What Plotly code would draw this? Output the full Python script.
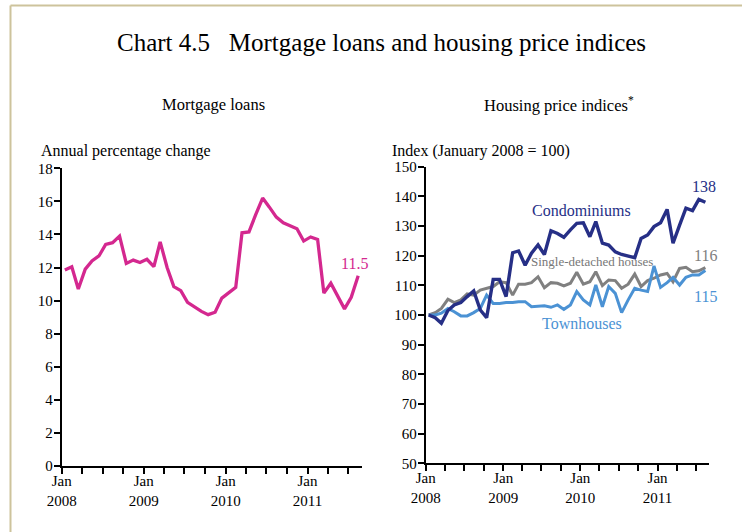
import plotly.graph_objects as go
import pandas as pd

# Monthly observations, January 2008 - August 2011 (plotted mid-month)
months = pd.date_range("2008-01-01", periods=44, freq="MS") + pd.Timedelta(days=14)

mortgage_loans = [
    11.85, 12.05, 10.7, 11.9, 12.4, 12.7, 13.4, 13.5, 13.9, 12.25, 12.45, 12.3,
    12.5, 12.05, 13.55, 12.0, 10.85, 10.6, 9.9, 9.6, 9.35, 9.15, 9.3, 10.15,
    10.45, 10.8, 14.1, 14.15, 15.2, 16.2, 15.65, 15.05, 14.7, 14.55, 14.35, 13.6,
    13.85, 13.7, 10.45, 11.05, 10.3, 9.5, 10.2, 11.5,
]

condominiums = [
    100, 99.1, 97.2, 101.5, 103.4, 104.2, 106.2, 108.1, 101.7, 99.1, 112, 112,
    106.2, 121, 121.6, 116.8, 120.8, 123.6, 120.4, 128.4, 127.5, 126.2, 128.7, 130.9,
    131.1, 126.4, 131.5, 124.2, 123.6, 121.3, 120.4, 119.9, 119.3, 125.8, 127, 129.8,
    131.1, 135.6, 124.2, 130.3, 136, 135.2, 139, 138,
]

single_detached = [
    100, 100.8, 102.2, 105.3, 104.2, 105.1, 107.1, 106.7, 108.4, 109, 109.6, 111.2,
    110.9, 106.7, 110.4, 110.4, 110.9, 112.9, 109.2, 110.9, 110.7, 109.8, 110.7, 114.4,
    110.4, 111.2, 114.6, 109.9, 111.8, 111.6, 109, 110.4, 113.8, 109.6, 111.6, 112.4,
    113.5, 114, 111.2, 115.7, 116.1, 114.6, 114.9, 116,
]

townhouses = [
    100, 100, 100.6, 102.2, 101.1, 99.7, 99.7, 100.8, 102.2, 106.7, 103.9, 103.9,
    104.2, 104.2, 104.5, 104.5, 102.8, 103, 103.1, 102.6, 103.4, 101.9, 103.4, 107.9,
    105.1, 103.4, 110.1, 102.8, 109.6, 107.3, 100.8, 105.1, 109, 108.4, 107.9, 116.5,
    109.3, 110.9, 112.7, 110.1, 112.7, 113.5, 113.5, 115,
]

# Quarterly ticks, labelled only in January
tick_dates = pd.date_range("2008-01-01", "2011-07-01", freq="QS")
tick_text = [f"Jan<br>{d.year}" if d.month == 1 else "" for d in tick_dates]

FONT = "Liberation Serif"
PINK = "#d4288f"
NAVY = "#262f86"
GREY = "#808080"
LIGHT_BLUE = "#4b92d4"
W, H = 742, 532

fig = go.Figure()

fig.add_trace(go.Scatter(x=months, y=mortgage_loans, mode="lines",
                         line=dict(color=PINK, width=3.3), xaxis="x", yaxis="y"))
fig.add_trace(go.Scatter(x=months, y=single_detached, mode="lines",
                         line=dict(color=GREY, width=3), xaxis="x2", yaxis="y2"))
fig.add_trace(go.Scatter(x=months, y=townhouses, mode="lines",
                         line=dict(color=LIGHT_BLUE, width=3), xaxis="x2", yaxis="y2"))
fig.add_trace(go.Scatter(x=months, y=condominiums, mode="lines",
                         line=dict(color=NAVY, width=3.4), xaxis="x2", yaxis="y2"))

x_common = dict(
    type="date",
    range=["2008-01-01", "2011-09-01"],
    tickmode="array", tickvals=list(tick_dates), ticktext=tick_text,
    ticks="outside", ticklen=6, tickwidth=2, tickcolor="black",
    ticklabelstandoff=-6,
    showline=True, linecolor="black", linewidth=2,
    showgrid=False, zeroline=False, automargin=False,
    tickfont=dict(family=FONT, size=15, color="black"),
)
y_common = dict(
    ticks="outside", ticklen=6, tickwidth=2, tickcolor="black",
    ticklabelstandoff=-2,
    showline=True, linecolor="black", linewidth=2,
    showgrid=False, zeroline=False, automargin=False,
    tickfont=dict(family=FONT, size=15, color="black"),
)

fig.update_layout(
    width=W, height=H,
    margin=dict(l=0, r=0, t=0, b=0, autoexpand=False),
    paper_bgcolor="white", plot_bgcolor="white",
    showlegend=False,
    xaxis=dict(domain=[61.7 / W, 362 / W], anchor="y", **x_common),
    yaxis=dict(domain=[(H - 466) / H, (H - 168.3) / H], anchor="x",
               range=[0, 18], tickvals=list(range(0, 19, 2)), **y_common),
    xaxis2=dict(domain=[425.7 / W, 709 / W], anchor="y2", **x_common),
    yaxis2=dict(domain=[(H - 463.3) / H, (H - 166.7) / H], anchor="x2",
                range=[50, 150], tickvals=list(range(50, 151, 10)), **y_common),
)

# Frame lines along the top and left edge
frame = dict(color="#cdc39c", width=2)
fig.add_shape(type="line", xref="paper", yref="paper",
              x0=10.5 / W, x1=1, y0=(H - 5.5) / H, y1=(H - 5.5) / H, line=frame)
fig.add_shape(type="line", xref="paper", yref="paper",
              x0=10.5 / W, x1=10.5 / W, y0=0, y1=(H - 5.5) / H, line=frame)


def paper_text(text, x, y, size, color="black", xanchor="center"):
    fig.add_annotation(text=text, xref="paper", yref="paper",
                       x=x / W, y=(H - y) / H, xanchor=xanchor, yanchor="middle",
                       showarrow=False, font=dict(family=FONT, size=size, color=color))


paper_text("Chart 4.5&nbsp;&nbsp;&nbsp;Mortgage loans and housing price indices", 381, 42, 25)
paper_text("Mortgage loans", 213, 105, 16.5)
paper_text("Housing price indices<sup>*</sup>", 559, 105, 16.5)
paper_text("Annual percentage change", 39, 151, 16, xanchor="left")
paper_text("Index (January 2008 = 100)", 390, 151, 16, xanchor="left")

# Series labels on the housing price chart
paper_text("Condominiums", 581, 210, 16, NAVY)
paper_text("Single-detached houses", 592, 262, 13, "#777777")
paper_text("Townhouses", 582, 323, 16, LIGHT_BLUE)


# End-of-period value labels, anchored on the last observation
def value_label(text, value, xaxis, yaxis, color, dx, dy):
    fig.add_annotation(text=text, x=months[-1], y=value, xref=xaxis, yref=yaxis,
                       xanchor="center", yanchor="middle", xshift=dx, yshift=dy,
                       showarrow=False, font=dict(family=FONT, size=16, color=color))


value_label("11.5", mortgage_loans[-1], "x", "y", PINK, -4, 12)
value_label("138", condominiums[-1], "x2", "y2", NAVY, -1, 16)
value_label("116", single_detached[-1], "x2", "y2", GREY, 0, 12)
value_label("115", townhouses[-1], "x2", "y2", LIGHT_BLUE, 0, -26)

fig.write_html("out.html")
